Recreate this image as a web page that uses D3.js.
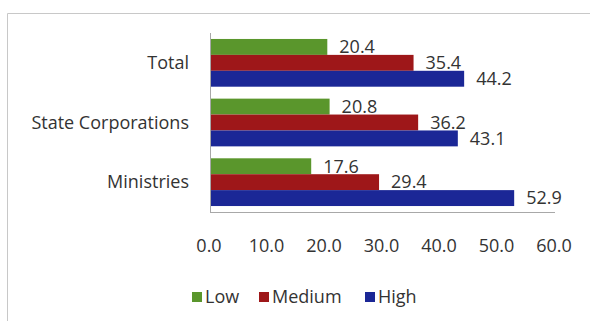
<!DOCTYPE html>
<html>
<head>
<script src="https://d3js.org/d3.v7.min.js"></script>
<style>
  body { margin: 0; background: #fff; }
  text { font-family: "Open Sans", sans-serif; fill: #333; }
  .frame { stroke: #c8c8c8; stroke-width: 1; fill: none; }
  .axis-line { stroke: #a8a8a8; stroke-width: 1; }
</style>
</head>
<body>
<script>
var categories = ["Total", "State Corporations", "Ministries"];
var seriesNames = ["Low", "Medium", "High"];
var lowValues = [20.4, 20.8, 17.6];
var mediumValues = [35.4, 36.2, 29.4];
var highValues = [44.2, 43.1, 52.9];
var tickValues = [0, 10, 20, 30, 40, 50, 60];
var colors = ["#5a962c", "#9e1719", "#1b2796"];

var width = 590, height = 321;
var plotLeft = 210, plotRight = 555, plotTop = 33, plotBottom = 212;

var svg = d3.select("body").append("svg").attr("width", width).attr("height", height);

// outer frame (only top and left visible in the scan)
svg.append("line").attr("class", "frame").attr("x1", 7.5).attr("y1", 13.5).attr("x2", 590).attr("y2", 13.5);
svg.append("line").attr("class", "frame").attr("x1", 7.5).attr("y1", 13.5).attr("x2", 7.5).attr("y2", 321);

var x = d3.scaleLinear().domain([0, 60]).range([plotLeft, plotRight]);
var y = d3.scaleBand().domain(categories).range([plotTop, plotBottom]).paddingInner(0.2).paddingOuter(0.1);
var ySub = d3.scaleBand().domain(seriesNames).range([0, y.bandwidth()]);

var rows = categories.map(function(c, i) {
  return { cat: c, vals: [lowValues[i], mediumValues[i], highValues[i]] };
});

var groups = svg.append("g").selectAll("g").data(rows).enter().append("g")
  .attr("transform", function(d) { return "translate(0," + y(d.cat) + ")"; });

groups.selectAll("rect").data(function(d) { return d.vals; }).enter().append("rect")
  .attr("x", x(0) + 1)
  .attr("y", function(d, i) { return ySub(seriesNames[i]); })
  .attr("width", function(d) { return x(d) - x(0) - 1; })
  .attr("height", ySub.bandwidth())
  .attr("fill", function(d, i) { return colors[i]; });

groups.selectAll("text.val").data(function(d) { return d.vals; }).enter().append("text")
  .attr("class", "val")
  .attr("x", function(d) { return x(d) + 12; })
  .attr("y", function(d, i) { return ySub(seriesNames[i]) + ySub.bandwidth() / 2; })
  .attr("dy", "0.35em")
  .style("font-size", "18px")
  .text(function(d) { return d.toFixed(1); });

// axis lines
svg.append("line").attr("class", "axis-line").attr("x1", plotLeft + 0.5).attr("y1", plotTop).attr("x2", plotLeft + 0.5).attr("y2", plotBottom);
svg.append("line").attr("class", "axis-line").attr("x1", plotLeft).attr("y1", plotBottom + 0.5).attr("x2", plotRight).attr("y2", plotBottom + 0.5);

// category labels
svg.append("g").selectAll("text").data(categories).enter().append("text")
  .attr("x", 189)
  .attr("y", function(d) { return y(d) + y.bandwidth() / 2; })
  .attr("dy", "0.35em")
  .attr("text-anchor", "end")
  .style("font-size", "18px")
  .text(function(d) { return d; });

// x tick labels
svg.append("g").selectAll("text").data(tickValues).enter().append("text")
  .attr("x", function(d) { return x(d) - 1; })
  .attr("y", 246)
  .attr("dy", "0.35em")
  .attr("text-anchor", "middle")
  .style("font-size", "18px")
  .text(function(d) { return d.toFixed(1); });

// legend
var legendX = [192, 259, 365];
var legend = svg.append("g").selectAll("g").data(seriesNames).enter().append("g")
  .attr("transform", function(d, i) { return "translate(" + legendX[i] + ",297)"; });
legend.append("rect").attr("x", 0).attr("y", -5).attr("width", 10).attr("height", 10)
  .attr("fill", function(d, i) { return colors[i]; });
legend.append("text").attr("x", 13).attr("dy", "0.35em").style("font-size", "18px")
  .text(function(d) { return d; });
</script>
</body>
</html>
